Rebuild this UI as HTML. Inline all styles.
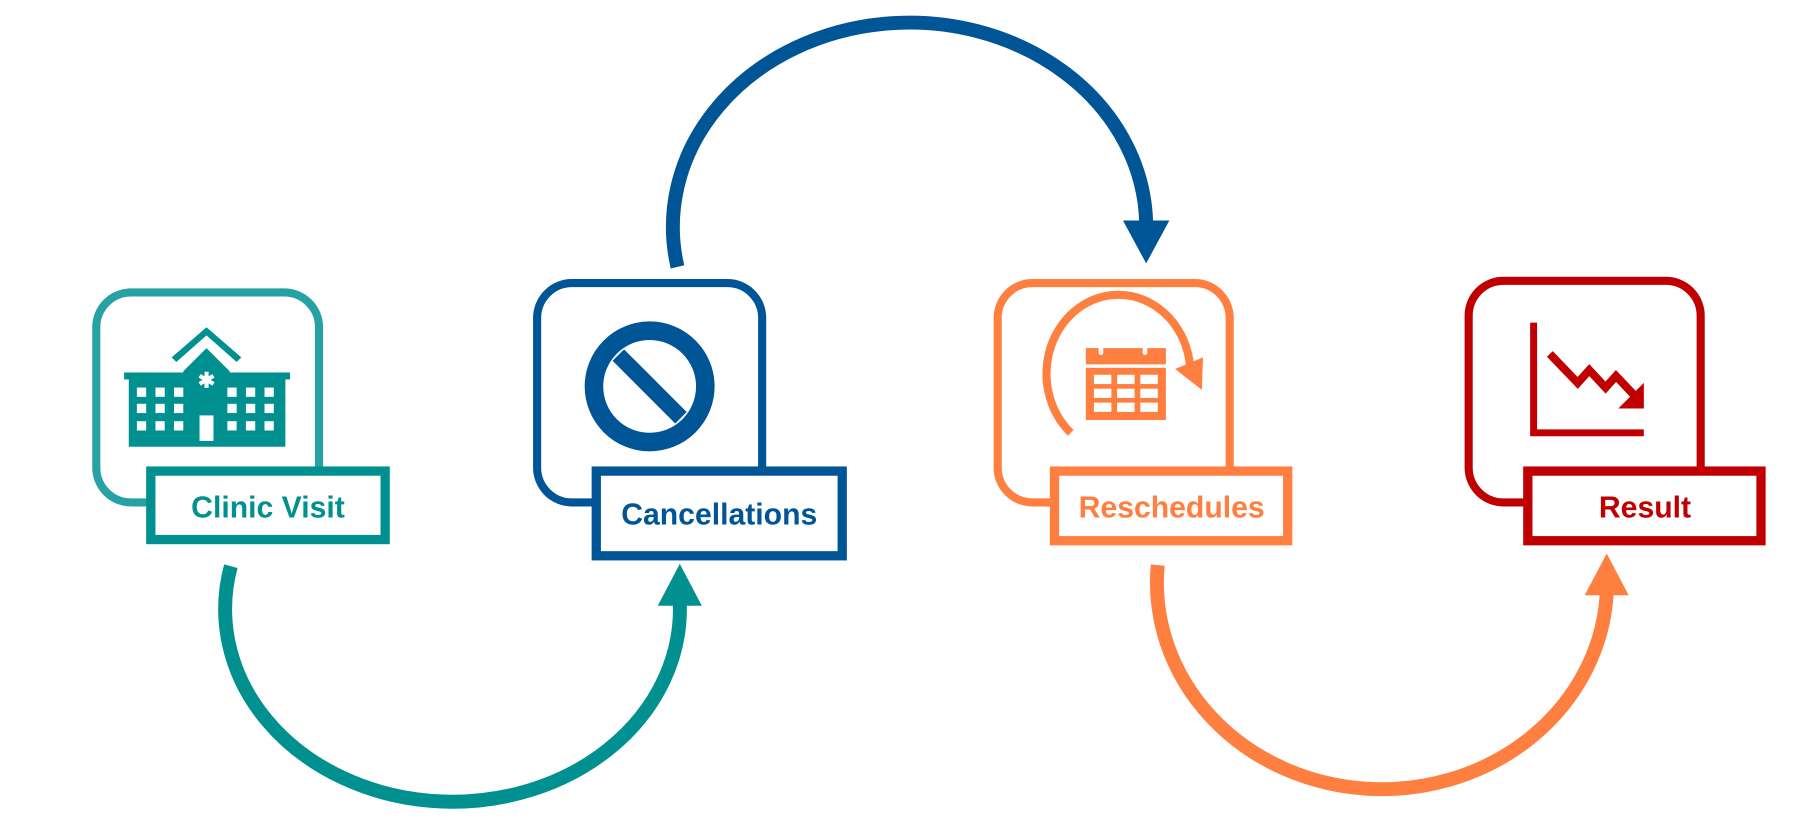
<!DOCTYPE html>
<html><head><style>html,body{margin:0;padding:0;background:#fff;}svg{display:block}
text{font-family:"Liberation Sans",sans-serif;font-weight:bold;font-size:26px;text-anchor:middle}</style></head>
<body>
<svg width="1819" height="825" viewBox="0 0 1568 711" preserveAspectRatio="none" xmlns="http://www.w3.org/2000/svg">
<g fill="none" stroke-width="12">
<path d="M199,488 A196,166 0 1 0 586,520" stroke="#009090"/>
<path d="M584,230 A204,176 0 1 1 988,192" stroke="#005596"/>
<path d="M998,487 A194,178 0 1 0 1385,512" stroke="#ff7f41"/>
</g>
<polygon points="567,522 605,522 586,486" fill="#009090"/>
<polygon points="968,190 1008,190 988,227" fill="#005596"/>
<polygon points="1366,513 1404,513 1385,477" fill="#ff7f41"/>

<!-- Clinic -->
<path d="M128,433 H113 A30,30 0 0 1 83,403 V282 A30,30 0 0 1 113,252 H245 A30,30 0 0 1 275,282 V405" fill="none" stroke="#26a2a4" stroke-width="7"/>
<rect x="130" y="406" width="202" height="59" fill="#fff" stroke="#009090" stroke-width="8"/>
<text x="231" y="446" fill="#009090">Clinic Visit</text>
<g fill="#009090">
<polygon points="148,308 178,282 208,308 204,312 178,289 152,312"/>
<polygon points="158,320 178,300 198,320 198,323 158,323"/>
<rect x="107" y="321" width="143" height="6"/>
<rect x="111" y="326" width="135" height="59"/>
</g>
<g fill="#fff">
<rect x="118" y="334" width="8" height="8"/><rect x="134" y="334" width="8" height="8"/><rect x="150" y="334" width="8" height="8"/>
<rect x="118" y="348" width="8" height="8"/><rect x="134" y="348" width="8" height="8"/><rect x="150" y="348" width="8" height="8"/>
<rect x="118" y="363" width="8" height="8"/><rect x="134" y="363" width="8" height="8"/><rect x="150" y="363" width="8" height="8"/>
<rect x="196" y="334" width="8" height="8"/><rect x="212" y="334" width="8" height="8"/><rect x="228" y="334" width="8" height="8"/>
<rect x="196" y="348" width="8" height="8"/><rect x="212" y="348" width="8" height="8"/><rect x="228" y="348" width="8" height="8"/>
<rect x="196" y="363" width="8" height="8"/><rect x="212" y="363" width="8" height="8"/><rect x="228" y="363" width="8" height="8"/>
<rect x="172" y="358" width="12" height="22"/>
<text x="178" y="334" style="font-size:18px">✱</text>
</g>

<!-- Cancellations -->
<path d="M512,433 H493 A30,30 0 0 1 463,403 V274 A30,30 0 0 1 493,244 H627 A30,30 0 0 1 657,274 V405" fill="none" stroke="#005596" stroke-width="7"/>
<rect x="514" y="406" width="212" height="73" fill="#fff" stroke="#005596" stroke-width="8"/>
<text x="620" y="452" fill="#005596">Cancellations</text>
<circle cx="560" cy="333" r="48" fill="none" stroke="#005596" stroke-width="16"/>
<line x1="533" y1="306" x2="587" y2="360" stroke="#005596" stroke-width="14"/>

<!-- Reschedules -->
<path d="M908,433 H890 A30,30 0 0 1 860,403 V274 A30,30 0 0 1 890,244 H1030 A30,30 0 0 1 1060,274 V405" fill="none" stroke="#ff7f41" stroke-width="7"/>
<rect x="909" y="406" width="201" height="60" fill="#fff" stroke="#ff7f41" stroke-width="8"/>
<text x="1010" y="446" fill="#ff7f41">Reschedules</text>
<path d="M923,373 A62,68 0 1 1 1026,318" fill="none" stroke="#ff7f41" stroke-width="7"/>
<polygon points="1013,318 1037,308 1036,336" fill="#ff7f41"/>
<g fill="#ff7f41">
<rect x="936" y="300" width="69" height="14"/>
<rect x="936" y="317" width="69" height="45"/>
</g>
<g fill="#fff">
<rect x="943" y="323" width="15" height="8"/><rect x="963" y="323" width="15" height="8"/><rect x="983" y="323" width="15" height="8"/>
<rect x="943" y="335" width="15" height="8"/><rect x="963" y="335" width="15" height="8"/><rect x="983" y="335" width="15" height="8"/>
<rect x="943" y="347" width="15" height="8"/><rect x="963" y="347" width="15" height="8"/><rect x="983" y="347" width="15" height="8"/>
<rect x="947" y="294" width="4" height="12" rx="2"/><rect x="985" y="294" width="4" height="12" rx="2"/>
</g>

<!-- Result -->
<path d="M1316,433 H1296 A30,30 0 0 1 1266,403 V272 A30,30 0 0 1 1296,242 H1436 A30,30 0 0 1 1466,272 V405" fill="none" stroke="#c00000" stroke-width="7"/>
<rect x="1317" y="406" width="201" height="60" fill="#fff" stroke="#c00000" stroke-width="8"/>
<text x="1418" y="446" fill="#c00000">Result</text>
<path d="M1322,278 V373 H1417" fill="none" stroke="#c00000" stroke-width="6"/>
<polyline points="1336,305 1360,330 1370,319 1384,334 1393,324 1410,342" fill="none" stroke="#c00000" stroke-width="7"/>
<polygon points="1395,352 1417,352 1417,330" fill="#c00000"/>
</svg>
</body></html>
